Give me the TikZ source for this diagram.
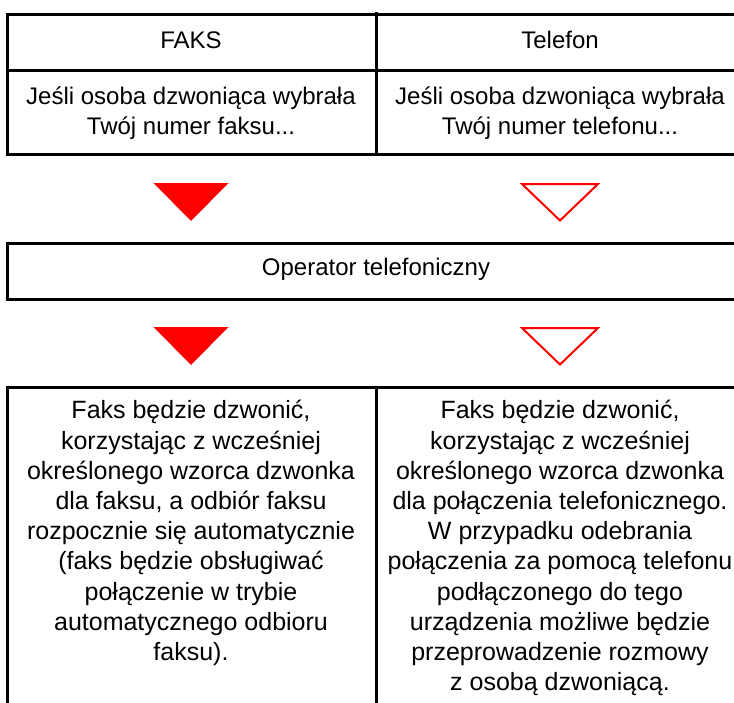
\documentclass[tikz,border=0pt]{standalone}
\usepackage{fontspec}
\setmainfont{Liberation Sans}
\usepackage{xcolor}
\usepackage{tikz}
\definecolor{faxRed}{HTML}{FF0000}
\definecolor{faxInk}{HTML}{000000}

\begin{document}
\begin{tikzpicture}[x=0.5pt,y=-0.5pt,
  frame/.style={draw=faxInk,line width=1.5pt},
  celltext/.style={inner sep=0pt,align=center,text=faxInk,font=\fontsize{12pt}{15.1pt}\selectfont},
  bodytext/.style={celltext,font=\fontsize{12.5pt}{15.1pt}\selectfont},
  fullmark/.style={fill=faxRed},
  openmark/.style={draw=faxRed,line width=1pt}]
  \useasboundingbox (0,0) rectangle (734,702);
  \clip (0,0) rectangle (734,702);
  \draw[frame] (7,14) rectangle (745,154);
  \draw[frame] (7,70) -- (745,70);
  \draw[frame] (376,12) -- (376,156);
  \draw[frame] (7,243) rectangle (745,299);
  \draw[frame] (7,387) rectangle (745,720);
  \draw[frame] (376,387) -- (376,720);
  \node[celltext,anchor=base] (faks) at (191,48) {FAKS};
  \node[celltext,anchor=base] (telefon) at (560,48) {Telefon};
  \node[celltext,anchor=north] (faksnr) at (191,86) {Jeśli osoba dzwoniąca wybrała\\Twój numer faksu...};
  \node[celltext,anchor=north] (telnr) at (560,86) {Jeśli osoba dzwoniąca wybrała\\Twój numer telefonu...};
  \node[celltext,anchor=base] (operator) at (376,275) {Operator telefoniczny};
  \node[bodytext,anchor=north] (faksodp) at (191,400) {Faks będzie dzwonić,\\korzystając z wcześniej\\określonego wzorca dzwonka\\dla faksu, a odbiór faksu\\rozpocznie się automatycznie\\(faks będzie obsługiwać\\połączenie w trybie\\automatycznego odbioru\\faksu).};
  \node[bodytext,anchor=north] (telodp) at (560,400) {Faks będzie dzwonić,\\korzystając z wcześniej\\określonego wzorca dzwonka\\dla połączenia telefonicznego.\\W przypadku odebrania\\połączenia za pomocą telefonu\\podłączonego do tego\\urządzenia możliwe będzie\\przeprowadzenie rozmowy\\z osobą dzwoniącą.};
  \fill[fullmark] (153.5,183) -- (228.5,183) -- (191,221) -- cycle;
  \draw[openmark] (522,184) -- (598,184) -- (560,220.5) -- cycle;
  \fill[fullmark] (153.5,327) -- (228.5,327) -- (191,365) -- cycle;
  \draw[openmark] (522,328) -- (598,328) -- (560,364.5) -- cycle;
\end{tikzpicture}
\end{document}
